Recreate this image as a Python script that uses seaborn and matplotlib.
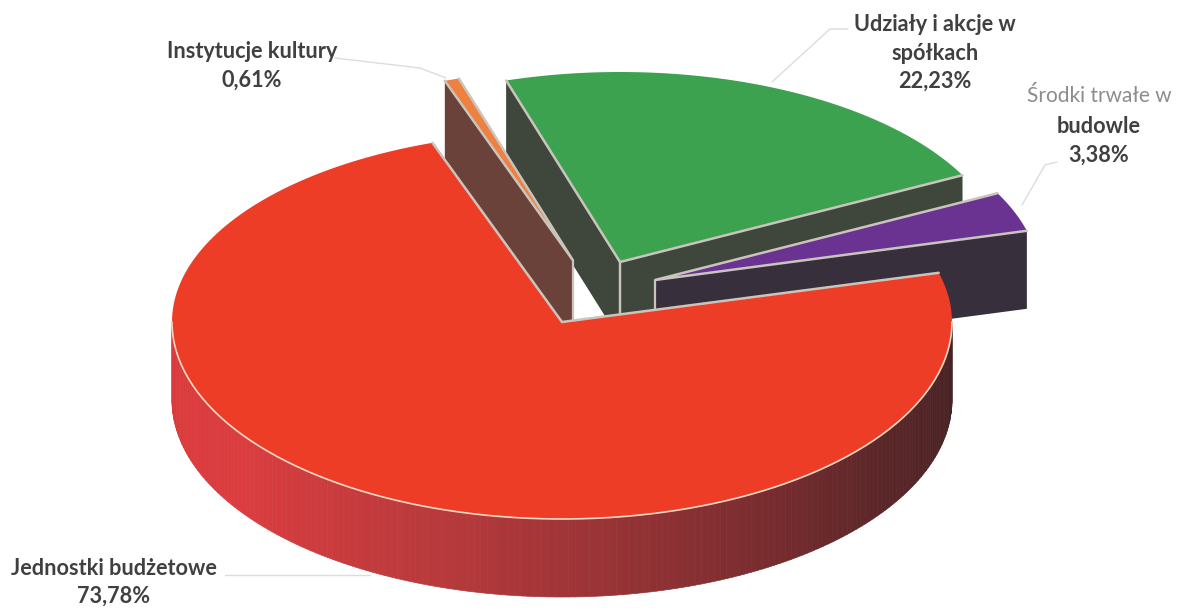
import numpy as np
import matplotlib.pyplot as plt
from matplotlib.collections import PolyCollection
import seaborn as sns

# Data
categories = ['Jednostki budżetowe', 'Środki trwałe w\nbudowle', 'Udziały i akcje w\nspółkach', 'Instytucje kultury']
shares = [73.78, 3.38, 22.23, 0.61]
top_colors = ['#ee3d26', '#6a3391', '#3da24f', '#ee8040']
wall_colors = ['#6b2a2a', '#372f3c', '#3f473c', '#6a4239']

START_ANGLE = 109.4
CX, CY = 562, 322
RX, RY_BACK, RY_FRONT = 390, 190, 197
DEPTH = 78
EDGE = '#c9c5bd'

# how far each slice is pulled out of the pie, in pixels
explode = [(0, 0), (93, -42), (58, -60), (10.7, -62)]
# pulled out slices look a bit narrower
EXPLODED_RX = 385


def rim_point(t, off=(0, 0), dz=0, rx=RX):
    ry = np.where(np.sin(t) < 0, RY_FRONT, RY_BACK)
    return np.column_stack([CX + off[0] + rx * np.cos(t), CY + off[1] + dz - ry * np.sin(t)])


def cut_wall(ax, angle, off, color, z):
    # flat side of a slice, from the centre to the rim
    apex = np.array([CX + off[0], CY + off[1]])
    end = rim_point(np.radians([angle]), off, rx=EXPLODED_RX)[0]
    quad = [apex, end, end + [0, DEPTH], apex + [0, DEPTH]]
    ax.fill(*zip(*quad), color=color, lw=0, zorder=z)
    ax.plot([apex[0], apex[0]], [apex[1], apex[1] + DEPTH], color=EDGE, lw=1.6, zorder=z + 0.1)


def top_face(ax, a0, a1, off, color, z, rx):
    t = np.radians(np.linspace(a0, a1, 200))
    pts = rim_point(t, off, rx=rx)
    apex = [CX + off[0], CY + off[1]]
    poly = np.vstack([apex, pts])
    ax.fill(poly[:, 0], poly[:, 1], color=color, lw=0, zorder=z)
    ax.plot([pts[0, 0], apex[0], pts[-1, 0]], [pts[0, 1], apex[1], pts[-1, 1]],
            color=EDGE, lw=1.8, solid_joinstyle='miter', zorder=z + 0.1)


def main():
    sns.set_theme(style='white')
    plt.rcParams['font.family'] = ['Lato', 'DejaVu Sans']

    fig = plt.figure(figsize=(11.81, 6.09), dpi=100)
    ax = fig.add_axes([0, 0, 1, 1])
    ax.set_xlim(0, 1181)
    ax.set_ylim(609, 0)
    ax.axis('off')

    # angles of each slice come from the shares
    sweep = np.array(shares) / sum(shares) * 360
    starts = START_ANGLE + np.concatenate([[0], np.cumsum(sweep)[:-1]])
    ends = starts + sweep

    # green, purple, orange first, the big red slice goes on top of their walls
    z = 2
    for i in [2, 1, 3]:
        off = explode[i]
        if i == 2:
            cut_wall(ax, starts[i], off, wall_colors[i], z)
            cut_wall(ax, ends[i], off, wall_colors[i], z)
        elif i == 1:
            cut_wall(ax, starts[i], off, wall_colors[i], z)
        else:
            cut_wall(ax, ends[i], off, wall_colors[i], z)
        top_face(ax, starts[i], ends[i], off, top_colors[i], z + 0.5, EXPLODED_RX)
        z += 1

    # red outer side with a left to right shading
    n = 180
    t = np.radians(np.linspace(180, 360, n + 1))
    upper = rim_point(t)
    lower = rim_point(t, dz=DEPTH)
    strips = [[upper[k], upper[k + 1], lower[k + 1], lower[k]] for k in range(n)]
    shade = sns.blend_palette(['#d93b3e', '#db3d3f', '#b83a3c', '#8a3033', '#5c2729', '#452224'], n)
    ax.add_collection(PolyCollection(strips, facecolors=shade, edgecolors=shade, linewidths=0.5, zorder=z))

    top_face(ax, starts[0], ends[0], explode[0], top_colors[0], z + 1, RX)
    ax.plot(upper[:, 0], upper[:, 1], color='#f6d9c4', lw=1.2, zorder=z + 2)

    # leader lines
    leader_color = '#dcdcdc'
    ax.plot([335, 420, 446], [58, 68, 78], color=leader_color, lw=1, zorder=1)
    ax.plot([848, 830, 772], [29, 29, 82], color=leader_color, lw=1, zorder=1)
    ax.plot([1057, 1045, 1022], [162, 165, 205], color=leader_color, lw=1, zorder=1)
    ax.plot([225, 370], [575, 575], color=leader_color, lw=1, zorder=1)

    # labels
    pct = [f'{v:.2f}%'.replace('.', ',') for v in shares]
    txt = dict(ha='center', va='center', color='#404040', fontsize=15.6, fontweight='bold', linespacing=1.42)
    ax.text(114, 582.5, categories[0] + '\n' + pct[0], **txt)
    ax.text(252, 66, categories[3] + '\n' + pct[3], **txt)
    ax.text(935, 53, categories[2] + '\n' + pct[2], **txt)
    first, second = categories[1].split('\n')
    ax.text(1099, 96, first, ha='center', va='center', color='#8c8c8c', fontsize=15)
    ax.text(1099, 141, second + '\n' + pct[1], **txt)

    plt.savefig('out.png', dpi=100)
    plt.close()


if __name__ == '__main__':
    main()
